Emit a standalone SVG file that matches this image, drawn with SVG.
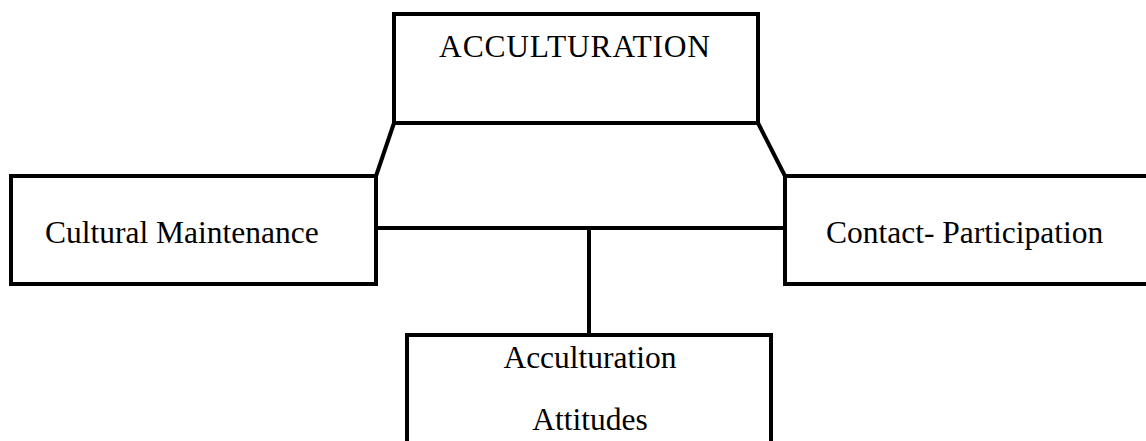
<svg xmlns="http://www.w3.org/2000/svg" width="1146" height="441" viewBox="0 0 1146 441">
<style>
.box{fill:#fff;stroke:#000;stroke-width:4}
.ln{fill:none;stroke:#000;stroke-width:4}
.t{font-family:"Liberation Serif","Times New Roman",serif;font-size:31.5px;fill:#000}
.c{text-anchor:middle}
</style>
<rect width="1146" height="441" fill="#fff"/>
<g id="connectors">
<line class="ln" x1="394" y1="123" x2="376" y2="176"/>
<line class="ln" x1="758" y1="123" x2="785" y2="176"/>
<line class="ln" x1="376" y1="228" x2="785" y2="228"/>
<line class="ln" x1="589" y1="228" x2="589" y2="335"/>
</g>
<g id="acculturation">
<rect class="box" x="394" y="14" width="364" height="109"/>
<text class="t c" x="575" y="57" letter-spacing="0.8">ACCULTURATION</text>
</g>
<g id="cultural-maintenance">
<rect class="box" x="11" y="176" width="365" height="108"/>
<text class="t" x="45" y="243">Cultural Maintenance</text>
</g>
<g id="contact-participation">
<rect class="box" x="785" y="176" width="370" height="108"/>
<text class="t" x="826" y="243">Contact- Participation</text>
</g>
<g id="acculturation-attitudes">
<rect class="box" x="407" y="335" width="364" height="120"/>
<text class="t c" x="590" y="368">Acculturation</text>
<text class="t c" x="590" y="430">Attitudes</text>
</g>
</svg>
